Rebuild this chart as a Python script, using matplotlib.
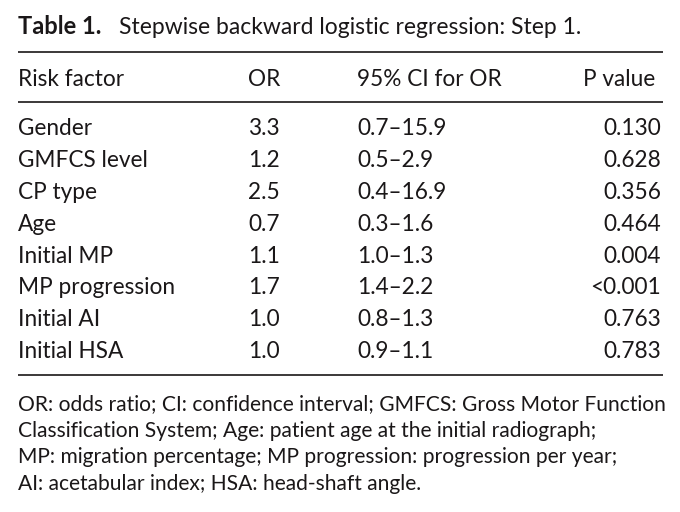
import matplotlib
matplotlib.use("Agg")
import matplotlib.pyplot as plt

plt.rcParams['font.family'] = ['Lato', 'DejaVu Sans']

# table content
risk_factors = ["Gender", "GMFCS level", "CP type", "Age", "Initial MP",
                "MP progression", "Initial AI", "Initial HSA"]
odds_ratios = ["3.3", "1.2", "2.5", "0.7", "1.1", "1.7", "1.0", "1.0"]
ci_ranges = ["0.7\u201315.9", "0.5\u20132.9", "0.4\u201316.9", "0.3\u20131.6",
             "1.0\u20131.3", "1.4\u20132.2", "0.8\u20131.3", "0.9\u20131.1"]
p_values = ["0.130", "0.628", "0.356", "0.464", "0.004", "<0.001", "0.763", "0.783"]
headers = ["Risk factor", "OR", "95% CI for OR", "P value"]

footnote = [
    "OR: odds ratio; CI: confidence interval; GMFCS: Gross Motor Function",
    "Classification System; Age: patient age at the initial radiograph;",
    "MP: migration percentage; MP progression: progression per year;",
    "AI: acetabular index; HSA: head-shaft angle.",
]

ink = "#1a1718"
fs = 16.3

fig = plt.figure(figsize=(6.8, 5.12), dpi=100)
ax = fig.add_axes([0, 0, 1, 1])
ax.set_xlim(0, 680)
ax.set_ylim(512, 0)
ax.axis("off")

# title
ax.text(18, 34, "Table 1.", fontsize=17, fontweight="bold", color=ink, va="baseline")
ax.text(119, 34, "Stepwise backward logistic regression: Step 1.", fontsize=16.5,
        color=ink, va="baseline")

# rules
ax.hlines([52, 102, 375], 18, 663, color=ink, lw=1.2)

# column x positions
col_x = [18, 248, 357, 655]
ax.text(col_x[0], 86, headers[0], fontsize=fs, color=ink, va="baseline")
ax.text(col_x[1], 86, headers[1], fontsize=fs, color=ink, va="baseline")
ax.text(col_x[2], 86, headers[2], fontsize=fs, color=ink, va="baseline")
ax.text(col_x[3], 86, headers[3], fontsize=fs, color=ink, va="baseline", ha="right")

for i in range(len(risk_factors)):
    y = 135 + 31.9 * i
    ax.text(col_x[0], y, risk_factors[i], fontsize=fs, color=ink, va="baseline")
    ax.text(col_x[1], y, odds_ratios[i], fontsize=fs, color=ink, va="baseline")
    ax.text(col_x[2], y, ci_ranges[i], fontsize=fs, color=ink, va="baseline")
    ax.text(661, y, p_values[i], fontsize=fs, color=ink, va="baseline", ha="right")

for i, line in enumerate(footnote):
    ax.text(18, 410 + 26.6 * i, line, fontsize=15.1, color=ink, va="baseline")

fig.savefig("out.png", dpi=100)
